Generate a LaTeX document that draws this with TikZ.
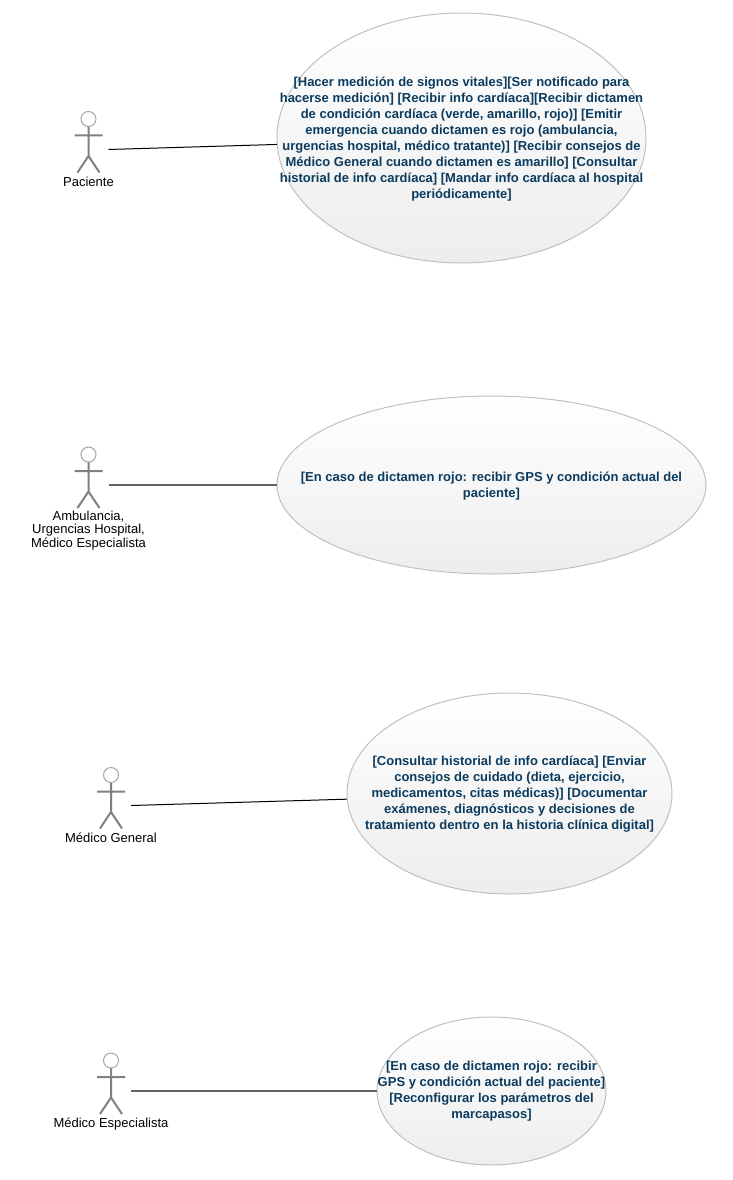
\documentclass[tikz,border=0pt]{standalone}
\usepackage{fontspec}
\setmainfont{Liberation Sans}
\usetikzlibrary{shapes.geometric}
\definecolor{usecasetext}{HTML}{0B3B5E}
\definecolor{usecaseline}{HTML}{C0C0C0}
\definecolor{actorline}{HTML}{808080}
\tikzset{
  usecase/.style={ellipse,draw=usecaseline,line width=0.75pt,top color=white,bottom color=black!7,inner sep=0pt},
  usecasetext/.style={align=center,inner sep=0pt,font=\fontsize{9.75}{12}\selectfont\bfseries,text=usecasetext},
  actorlabel/.style={anchor=north,align=center,inner sep=0pt,font=\fontsize{9.75}{10.2}\selectfont},
  link/.style={black,line width=0.75pt},
  flatlink/.style={black!60,line width=1.5pt},
  actor/.pic={
    \draw[actorline,line width=1.5pt] (0,7.5) -- (0,37) (-14,16.5) -- (14,16.5)
      (-11,53.5) -- (0,37) -- (11,53.5);
    \draw[actorline!70,fill=white,line width=0.75pt] (0,0) circle (7.5);
    \coordinate (-grip) at (20,30.5);
  }
}
\begin{document}
\begin{tikzpicture}[x=0.75pt,y=-0.75pt]
  \useasboundingbox (0,0) rectangle (732,1180);
  % actors
  \pic (paciente) at (88.5,119) {actor};
  \pic (ambulancia) at (88.5,454.5) {actor};
  \pic (general) at (111,775) {actor};
  \pic (especialista) at (111,1060.5) {actor};
  \node[actorlabel] (pacienteLabel) at (88.5,176.5) {Paciente};
  \node[actorlabel] (ambulanciaLabel) at (88.5,510.5) {Ambulancia,\\Urgencias Hospital,\\Médico Especialista};
  \node[actorlabel] (generalLabel) at (111,833) {Médico General};
  \node[actorlabel] (especialistaLabel) at (111,1118) {Médico Especialista};
  % use cases
  \node[usecase,minimum width=276.75pt,minimum height=187.5pt] (ucPaciente) at (461.5,138) {};
  \node[usecase,minimum width=321.75pt,minimum height=133.5pt] (ucAmbulancia) at (491.5,485) {};
  \node[usecase,minimum width=243.75pt,minimum height=150.75pt] (ucGeneral) at (509.5,793.5) {};
  \node[usecase,minimum width=171.75pt,minimum height=111pt] (ucEspecialista) at (491.5,1091) {};
  \node[usecasetext] (txtPaciente) at (461.5,139) {[Hacer medición de signos vitales][Ser notificado para\\hacerse medición] [Recibir info cardíaca][Recibir dictamen\\de condición cardíaca (verde, amarillo, rojo)] [Emitir\\emergencia cuando dictamen es rojo (ambulancia,\\urgencias hospital, médico tratante)] [Recibir consejos de\\Médico General cuando dictamen es amarillo] [Consultar\\historial de info cardíaca] [Mandar info cardíaca al hospital\\periódicamente]};
  \node[usecasetext] (txtAmbulancia) at (491.5,486.5) {[En caso de dictamen rojo: recibir GPS y condición actual del\\paciente]};
  \node[usecasetext] (txtGeneral) at (509.5,794) {[Consultar historial de info cardíaca] [Enviar\\consejos de cuidado (dieta, ejercicio,\\medicamentos, citas médicas)] [Documentar\\exámenes, diagnósticos y decisiones de\\tratamiento dentro en la historia clínica digital]};
  \node[usecasetext] (txtEspecialista) at (491.5,1091.5) {[En caso de dictamen rojo: recibir\\GPS y condición actual del paciente]\\{}[Reconfigurar los parámetros del\\marcapasos]};
  % links
  \draw[link] (paciente-grip) -- (ucPaciente.182.5);
  \draw[flatlink] (ambulancia-grip) -- (ucAmbulancia.west);
  \draw[link] (general-grip) -- (ucGeneral.182.4);
  \draw[flatlink] (especialista-grip) -- (ucEspecialista.west);
\end{tikzpicture}
\end{document}
